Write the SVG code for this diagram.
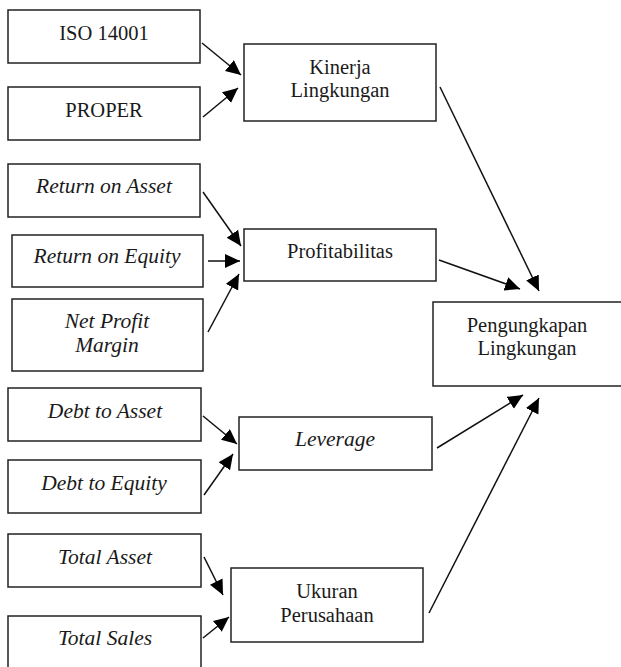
<svg xmlns="http://www.w3.org/2000/svg" width="621" height="667" viewBox="0 0 621 667">
<style>
.box{fill:#fff;stroke:#222;stroke-width:1.5}
text{font-family:'Liberation Serif','Times New Roman','DejaVu Serif',serif;font-size:20.5px;fill:#1a1a1a;text-anchor:middle}
.i{font-style:italic;font-size:21.5px}
.c{stroke:#111;stroke-width:1.5;fill:none;marker-end:url(#ah)}
</style>
<defs>
<marker id="ah" markerUnits="userSpaceOnUse" markerWidth="18" markerHeight="16" refX="15" refY="7" orient="auto" viewBox="0 0 18 16">
<path d="M0,0 L15,7 L0,14 Z" fill="#000"/>
</marker>
</defs>
<rect width="621" height="667" fill="#fff"/>
<g font-family="Liberation Serif, DejaVu Serif, serif">
<g id="iso"><rect class="box" x="8" y="10" width="192" height="53"/><text x="104" y="40">ISO 14001</text></g>
<g id="proper"><rect class="box" x="8" y="87" width="192" height="53"/><text x="104" y="117">PROPER</text></g>
<g id="kinerja"><rect class="box" x="244" y="44" width="192" height="77"/><text x="340" y="74">Kinerja</text><text x="340" y="97">Lingkungan</text></g>
<g id="roa"><rect class="box" x="8" y="164" width="192" height="53"/><text class="i" x="104" y="193">Return on Asset</text></g>
<g id="roe"><rect class="box" x="12" y="235" width="191" height="52"/><text class="i" x="107" y="263">Return on Equity</text></g>
<g id="npm"><rect class="box" x="12" y="299" width="191" height="72"/><text class="i" x="107" y="328">Net Profit</text><text class="i" x="107" y="352">Margin</text></g>
<g id="profit"><rect class="box" x="244" y="229" width="192" height="52"/><text x="340" y="258">Profitabilitas</text></g>
<g id="pengungkapan"><rect class="box" x="433" y="302" width="195" height="84"/><text x="527" y="332">Pengungkapan</text><text x="527" y="355">Lingkungan</text></g>
<g id="dta"><rect class="box" x="8" y="388" width="193" height="53"/><text class="i" x="105" y="418">Debt to Asset</text></g>
<g id="dte"><rect class="box" x="8" y="460" width="193" height="53"/><text class="i" x="104" y="490">Debt to Equity</text></g>
<g id="leverage"><rect class="box" x="239" y="417" width="193" height="53"/><text class="i" x="335" y="446">Leverage</text></g>
<g id="ta"><rect class="box" x="8" y="534" width="193" height="53"/><text class="i" x="105" y="564">Total Asset</text></g>
<g id="ts"><rect class="box" x="8" y="616" width="193" height="60"/><text class="i" x="105" y="645">Total Sales</text></g>
<g id="ukuran"><rect class="box" x="231" y="568" width="192" height="74"/><text x="327" y="598">Ukuran</text><text x="327" y="622">Perusahaan</text></g>
</g>
<g id="connectors">
<line class="c" x1="202" y1="43" x2="241" y2="75"/>
<line class="c" x1="203" y1="117" x2="238" y2="88"/>
<line class="c" x1="203" y1="192" x2="241" y2="246"/>
<line class="c" x1="208" y1="261" x2="240" y2="261"/>
<line class="c" x1="208" y1="332" x2="239" y2="274"/>
<line class="c" x1="203" y1="416" x2="237" y2="444"/>
<line class="c" x1="204" y1="495" x2="233" y2="454"/>
<line class="c" x1="204" y1="557" x2="223" y2="595"/>
<line class="c" x1="203" y1="638" x2="229" y2="617"/>
<line class="c" x1="440" y1="87" x2="539" y2="291"/>
<line class="c" x1="439" y1="260" x2="520" y2="289"/>
<line class="c" x1="437" y1="448" x2="523" y2="395"/>
<line class="c" x1="429" y1="613" x2="539" y2="398"/>
</g>
</svg>
